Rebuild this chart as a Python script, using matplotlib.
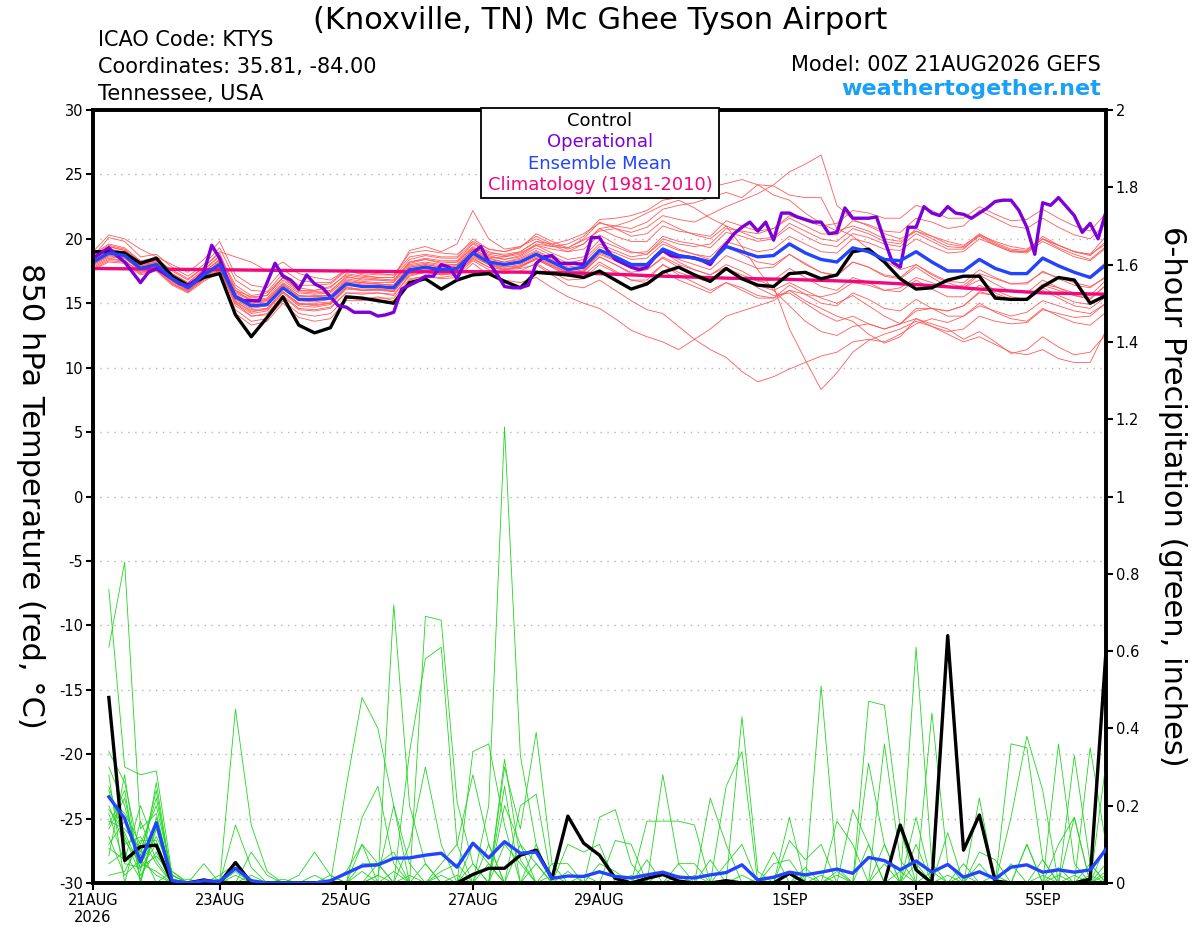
import matplotlib
matplotlib.use("Agg")
import matplotlib.pyplot as plt
from matplotlib.patches import Rectangle
from matplotlib.ticker import FuncFormatter

# ---- time axes (forecast hours from 00Z 21AUG2026) ----
temp_hours = list(range(0, 385, 6))
oper_hours = list(range(0, 385, 3))
precip_hours = list(range(6, 385, 6))
clim_hours = list(range(0, 385, 24))

date_ticks = [0, 48, 96, 144, 192, 264, 312, 360]
date_labels = ["21AUG\n2026", "23AUG", "25AUG", "27AUG", "29AUG", "1SEP", "3SEP", "5SEP"]

# ---- 850 hPa temperature (C) ----
control_temp = [
    19.0, 19.0, 18.9, 18.1, 18.5, 17.1, 16.4, 17.0, 17.3, 14.1, 12.4, 13.9, 15.5, 13.3, 12.7, 13.1,
    15.5, 15.4, 15.2, 15.0, 16.6, 16.9, 16.1, 16.8, 17.2, 17.3, 16.7, 16.2, 17.4, 17.3, 17.2, 17.0,
    17.5, 16.8, 16.1, 16.5, 17.4, 17.8, 17.2, 16.7, 17.7, 16.9, 16.4, 16.3, 17.3, 17.4, 16.9, 17.2,
    19.0, 19.2, 18.2, 16.9, 16.1, 16.2, 16.8, 17.1, 17.1, 15.4, 15.3, 15.3, 16.3, 17.0, 16.8, 15.0, 15.6,
]

mean_temp = [
    18.2, 18.9, 18.7, 17.7, 18.0, 16.9, 16.2, 17.2, 18.0, 15.5, 14.8, 14.9, 16.2, 15.3, 15.3, 15.4,
    16.5, 16.3, 16.3, 16.2, 17.6, 17.8, 17.6, 17.7, 18.9, 18.2, 18.0, 18.2, 18.8, 18.2, 17.6, 17.8,
    19.1, 18.6, 18.0, 18.0, 19.2, 18.7, 18.5, 18.2, 19.4, 19.0, 18.6, 18.7, 19.6, 18.9, 18.4, 18.2,
    19.3, 19.0, 18.4, 18.3, 19.0, 18.2, 17.5, 17.5, 18.4, 17.7, 17.3, 17.3, 18.5, 17.9, 17.4, 17.0, 18.0,
]

oper_temp = [
    18.5, 18.9, 19.3, 18.7, 18.2, 17.4, 16.6, 17.4, 17.7, 17.3, 16.9, 16.5, 16.4, 16.8, 17.4, 19.5,
    18.5, 16.8, 15.5, 15.2, 15.2, 15.2, 16.6, 18.1, 17.1, 16.8, 16.1, 17.2, 16.5, 16.2, 15.5, 14.8,
    14.7, 14.3, 14.3, 14.3, 14.0, 14.1, 14.3, 16.1, 16.4, 16.7, 17.1, 17.1, 18.0, 17.8, 16.9, 18.2,
    18.9, 19.4, 18.2, 17.3, 16.3, 16.2, 16.2, 16.4, 18.1, 18.6, 18.7, 18.1, 18.1, 18.1, 18.0, 20.1,
    20.1, 19.1, 18.4, 18.1, 17.8, 17.6, 17.8, 18.6, 19.1, 18.7, 18.6, 18.6, 18.5, 18.3, 18.0, 18.9,
    19.6, 20.4, 20.9, 21.3, 20.6, 21.3, 19.9, 22.0, 22.0, 21.7, 21.5, 21.3, 21.3, 20.4, 20.5, 22.4,
    21.6, 21.6, 21.6, 21.7, 19.9, 18.2, 17.8, 20.9, 20.9, 22.5, 22.0, 21.8, 22.5, 22.0, 21.9, 21.6,
    22.0, 22.4, 22.9, 23.0, 23.0, 22.2, 20.9, 18.8, 22.8, 22.6, 23.2, 22.5, 21.8, 20.5, 21.2, 20.0,
    22.1,
]

clim_temp = [17.7, 17.65, 17.6, 17.55, 17.5, 17.45, 17.45, 17.4, 17.3,
             17.1, 16.95, 16.85, 16.7, 16.45, 16.1, 15.8, 15.7]

temp_m01 = [
    18.5, 19.4, 19.1, 18.0, 18.4, 17.3, 16.6, 17.6, 18.7, 16.4, 15.6, 15.8, 17.0, 16.2, 16.0, 16.3,
    17.2, 17.0, 16.9, 16.8, 18.2, 18.5, 18.3, 18.3, 19.6, 18.9, 18.8, 19.0, 19.8, 19.4, 19.3, 19.9,
    20.6, 20.8, 20.5, 20.9, 21.8, 21.5, 21.3, 21.9, 22.5, 23.0, 23.5, 24.2, 25.2, 25.8, 26.5, 22.6,
    21.5, 21.0, 20.4, 20.0, 20.6, 20.2, 19.8, 19.5, 20.3, 19.8, 19.4, 19.2, 20.0, 19.5, 19.0, 18.8, 19.6,
]
temp_m02 = [
    18.0, 18.6, 18.5, 17.5, 17.8, 16.7, 16.0, 17.0, 17.8, 15.2, 14.3, 14.6, 15.9, 15.0, 14.8, 15.0,
    16.2, 16.0, 16.1, 15.9, 17.4, 17.6, 17.5, 17.8, 19.0, 18.5, 18.6, 19.0, 19.8, 19.6, 19.9, 20.4,
    21.2, 21.0, 20.8, 21.3, 22.3, 22.6, 22.8, 23.2, 23.6, 23.2, 24.2, 24.1, 23.4, 23.2, 23.2, 20.8,
    20.2, 19.2, 18.3, 17.6, 18.0, 17.2, 16.6, 16.2, 16.8, 16.0, 15.5, 15.3, 16.0, 15.4, 14.8, 14.6, 15.5,
]
temp_m03 = [
    17.9, 18.5, 18.3, 17.4, 17.7, 16.6, 15.9, 16.9, 17.6, 15.0, 14.0, 14.2, 15.6, 14.6, 14.5, 14.7,
    15.8, 15.7, 15.8, 15.6, 17.2, 17.4, 17.2, 17.4, 18.4, 17.8, 17.6, 17.9, 18.4, 17.8, 17.2, 17.5,
    18.6, 18.0, 17.4, 17.6, 18.6, 18.0, 17.6, 17.2, 18.0, 17.5, 16.8, 16.3, 13.0, 10.6, 8.3, 9.6,
    11.2, 12.1, 12.6, 13.0, 13.6, 13.2, 12.8, 13.0, 14.0, 13.6, 13.4, 13.5, 14.5, 14.2, 13.9, 14.0, 15.0,
]
temp_m04 = [
    18.3, 19.0, 18.8, 17.9, 18.1, 17.0, 16.3, 17.3, 18.2, 15.8, 15.2, 15.2, 16.4, 15.5, 15.6, 15.6,
    16.6, 16.6, 16.5, 16.4, 17.8, 18.0, 17.8, 17.9, 18.8, 18.0, 17.6, 17.7, 18.0, 17.2, 16.4, 16.2,
    16.8, 16.0, 15.2, 14.5, 14.2, 13.2, 12.2, 11.4, 10.8, 9.7, 8.9, 9.3, 9.9, 10.4, 10.9, 11.2,
    12.0, 12.2, 12.0, 12.6, 13.4, 13.8, 13.5, 14.0, 14.8, 14.4, 14.0, 14.3, 15.2, 14.8, 14.4, 14.2, 15.0,
]
temp_m05 = [
    17.6, 18.2, 18.1, 17.2, 17.5, 16.4, 15.8, 16.7, 17.4, 14.5, 13.6, 13.8, 15.2, 14.2, 14.0, 14.2,
    15.4, 15.3, 15.5, 15.2, 16.8, 17.1, 16.9, 17.0, 18.1, 17.2, 16.8, 16.6, 17.0, 16.2, 15.5, 15.0,
    14.6, 13.8, 12.9, 12.4, 12.0, 11.4, 12.2, 13.0, 14.0, 14.4, 14.8, 15.2, 16.0, 15.7, 15.5, 15.8,
    16.6, 16.4, 16.0, 16.2, 17.0, 16.6, 16.2, 16.4, 17.3, 16.9, 16.5, 16.6, 17.4, 17.0, 16.6, 16.3, 17.0,
]
temp_m06 = [
    18.8, 19.6, 19.3, 18.3, 18.5, 17.5, 16.8, 17.8, 18.9, 16.0, 15.2, 15.3, 16.6, 15.8, 15.7, 15.8,
    16.9, 16.7, 16.6, 16.6, 18.0, 18.2, 18.0, 18.0, 19.2, 18.5, 18.2, 18.4, 19.0, 18.4, 17.8, 18.0,
    19.2, 18.6, 17.9, 17.6, 18.5, 17.8, 17.2, 16.8, 17.6, 17.0, 16.4, 16.0, 16.6, 16.0, 15.4, 15.0,
    15.6, 14.8, 14.0, 13.4, 13.8, 13.2, 12.6, 12.0, 12.4, 11.8, 11.2, 11.0, 11.4, 10.7, 10.4, 10.4, 12.9,
]
temp_m07 = [
    18.1, 18.7, 18.6, 17.6, 17.9, 16.8, 16.1, 17.1, 17.9, 15.3, 14.5, 14.6, 15.9, 15.0, 15.0, 15.1,
    16.3, 16.0, 16.1, 16.0, 17.4, 17.6, 17.4, 17.5, 18.7, 18.0, 17.8, 17.9, 18.5, 17.9, 17.3, 17.4,
    18.6, 18.0, 17.3, 17.0, 18.0, 17.2, 16.6, 16.0, 16.6, 16.2, 15.6, 15.4, 16.0, 15.2, 14.6, 14.0,
    13.6, 12.6, 11.9, 12.4, 13.8, 13.4, 13.0, 12.2, 12.8, 12.0, 11.1, 11.4, 12.4, 11.6, 11.0, 11.2, 12.6,
]
temp_m08 = [
    18.6, 20.1, 19.8, 18.6, 18.8, 17.8, 17.1, 18.0, 19.3, 16.8, 16.0, 15.9, 17.3, 16.4, 16.4, 16.5,
    17.5, 17.3, 17.2, 17.2, 18.6, 18.8, 18.6, 18.6, 20.0, 19.2, 19.0, 19.4, 20.2, 19.6, 19.2, 19.6,
    20.8, 20.2, 19.8, 19.8, 21.0, 20.6, 20.4, 20.2, 21.4, 21.0, 20.6, 20.8, 21.6, 21.0, 20.4, 20.3,
    21.4, 21.1, 20.6, 20.5, 21.6, 21.3, 20.8, 21.0, 22.2, 21.6, 21.0, 20.8, 21.6, 20.9, 20.3, 20.0, 21.2,
]
temp_m09 = [
    18.4, 19.2, 18.9, 17.9, 18.2, 17.2, 16.4, 17.5, 18.3, 16.0, 15.5, 15.6, 17.0, 16.0, 16.0, 16.2,
    17.3, 17.1, 17.0, 17.0, 18.4, 18.7, 18.5, 18.5, 19.7, 19.0, 18.7, 18.9, 19.5, 18.9, 18.4, 18.6,
    19.9, 19.4, 18.9, 19.0, 20.2, 19.8, 19.6, 19.3, 20.5, 20.2, 19.8, 20.0, 20.9, 20.2, 19.6, 19.4,
    20.4, 20.1, 19.6, 19.4, 20.4, 19.8, 19.2, 19.2, 20.3, 19.6, 19.1, 19.0, 20.0, 19.3, 18.8, 18.4, 19.4,
]
temp_m10 = [
    18.2, 18.9, 18.8, 17.8, 18.0, 16.9, 16.2, 17.3, 18.1, 15.4, 14.6, 14.8, 16.2, 15.2, 15.1, 15.3,
    16.5, 16.4, 16.3, 16.2, 17.6, 17.9, 17.6, 17.8, 18.9, 18.3, 18.1, 18.3, 18.9, 18.3, 17.6, 17.9,
    19.2, 18.7, 18.1, 18.1, 19.3, 18.8, 18.6, 18.3, 19.5, 19.1, 18.6, 18.8, 19.7, 19.0, 18.4, 18.3,
    19.3, 19.0, 18.4, 18.3, 19.1, 18.3, 17.6, 17.6, 18.5, 17.8, 17.3, 17.4, 18.6, 18.0, 17.4, 17.1, 18.2,
]
temp_m11 = [
    19.0, 20.3, 20.0, 19.2, 18.6, 18.0, 17.4, 18.4, 19.8, 17.2, 16.4, 16.2, 17.6, 16.8, 16.6, 16.6,
    17.6, 17.2, 17.0, 17.0, 19.1, 19.4, 19.0, 19.6, 22.2, 20.0, 19.2, 19.4, 20.0, 19.5, 19.0, 19.2,
    20.3, 19.6, 19.0, 18.8, 19.8, 19.2, 18.8, 18.4, 19.4, 18.8, 18.2, 18.0, 18.8, 18.0, 17.4, 17.2,
    18.2, 17.8, 17.2, 17.0, 18.0, 17.3, 16.7, 16.6, 17.6, 17.0, 16.5, 16.5, 17.5, 16.9, 16.4, 16.2, 17.1,
]
temp_m12 = [
    17.8, 18.4, 18.3, 17.4, 17.6, 16.5, 15.9, 16.9, 17.5, 14.2, 13.3, 13.6, 15.0, 13.9, 13.6, 13.8,
    15.2, 15.2, 15.4, 15.4, 16.9, 17.1, 17.0, 17.2, 18.3, 17.6, 17.3, 17.5, 18.1, 17.4, 16.8, 16.9,
    18.0, 17.4, 16.8, 16.8, 18.0, 17.4, 17.0, 16.6, 17.7, 17.2, 16.7, 16.8, 17.7, 17.0, 16.3, 16.0,
    17.0, 16.6, 16.0, 15.9, 16.8, 16.1, 15.5, 15.5, 16.4, 15.8, 15.3, 15.2, 16.2, 15.6, 15.1, 14.9, 15.8,
]
temp_m13 = [
    18.7, 19.5, 19.2, 18.2, 18.3, 17.6, 16.9, 17.8, 19.0, 18.6, 18.2, 17.5, 18.2, 17.3, 17.0, 16.8,
    17.6, 17.4, 17.3, 17.2, 18.9, 19.1, 18.9, 18.8, 19.8, 19.2, 19.0, 19.3, 20.4, 19.8, 19.3, 20.0,
    21.3, 20.8, 20.2, 20.4, 21.4, 20.8, 20.3, 20.0, 21.0, 20.5, 20.0, 20.1, 21.2, 20.6, 20.0, 19.8,
    20.8, 20.4, 19.8, 19.6, 20.8, 20.2, 19.6, 19.4, 20.4, 19.7, 19.2, 19.1, 20.2, 19.5, 19.0, 18.7, 19.8,
]
temp_m14 = [
    18.0, 18.7, 18.5, 17.6, 17.9, 16.7, 16.0, 17.0, 17.7, 15.0, 14.2, 14.4, 15.8, 14.8, 14.7, 14.9,
    16.1, 16.0, 16.0, 15.9, 17.3, 17.5, 17.3, 17.4, 18.6, 18.0, 17.7, 17.8, 18.4, 17.8, 17.1, 17.2,
    18.2, 17.5, 16.8, 16.6, 17.5, 16.8, 16.3, 15.8, 16.6, 16.0, 15.4, 15.4, 16.4, 15.7, 15.0, 14.8,
    15.8, 15.3, 14.6, 14.4, 15.3, 14.6, 14.0, 14.0, 15.0, 14.3, 13.8, 13.6, 14.6, 14.0, 13.5, 13.3, 14.3,
]
temp_m15 = [
    18.3, 19.1, 18.9, 17.8, 18.1, 17.0, 16.3, 17.3, 18.2, 15.6, 15.0, 15.1, 16.5, 15.6, 15.5, 15.6,
    16.8, 16.6, 16.5, 16.4, 17.9, 18.1, 17.9, 18.0, 19.2, 18.6, 18.4, 18.7, 19.5, 19.2, 19.0, 19.6,
    20.8, 21.0, 21.4, 22.0, 22.6, 23.0, 22.4, 21.6, 21.0, 19.4, 17.6, 16.0, 14.8, 13.6, 12.8, 12.5,
    13.2, 13.4, 13.0, 13.4, 14.4, 14.6, 14.4, 14.8, 15.8, 15.6, 15.2, 15.4, 16.4, 16.0, 15.6, 15.4, 16.4,
]
temp_m16 = [
    18.6, 19.4, 19.1, 18.1, 18.3, 17.3, 16.6, 17.6, 18.6, 16.2, 15.4, 15.6, 17.0, 16.0, 15.9, 16.0,
    17.0, 16.9, 16.8, 16.8, 18.2, 18.4, 18.2, 18.2, 19.4, 18.7, 18.4, 18.6, 19.3, 18.7, 18.1, 18.4,
    19.6, 19.1, 18.6, 18.8, 20.0, 19.6, 19.4, 19.6, 20.8, 20.6, 20.4, 20.8, 21.8, 21.4, 21.0, 21.2,
    22.2, 22.0, 21.6, 21.6, 22.6, 22.2, 21.6, 21.6, 22.5, 21.9, 21.4, 21.5, 22.3, 21.6, 21.0, 20.6, 22.0,
]
temp_m17 = [
    17.7, 18.3, 18.2, 17.3, 17.6, 16.5, 15.9, 16.8, 17.6, 14.8, 14.0, 14.1, 15.5, 14.5, 14.4, 14.6,
    15.8, 15.8, 15.8, 15.7, 17.1, 17.4, 17.2, 17.3, 18.5, 17.8, 17.6, 17.8, 18.5, 17.9, 17.4, 17.5,
    18.8, 18.3, 17.8, 17.8, 19.0, 18.4, 18.0, 17.6, 18.7, 18.2, 17.7, 17.8, 18.8, 18.1, 17.4, 17.1,
    18.2, 17.8, 17.1, 16.9, 17.8, 17.0, 16.3, 16.2, 17.2, 16.5, 15.9, 15.8, 16.8, 16.2, 15.6, 15.3, 16.4,
]
temp_m18 = [
    18.4, 19.0, 18.9, 18.0, 18.2, 17.1, 16.4, 17.4, 18.4, 15.9, 15.3, 15.4, 16.8, 15.9, 15.8, 15.9,
    17.1, 16.8, 16.8, 16.7, 18.1, 18.4, 18.1, 18.2, 19.3, 18.8, 18.6, 18.8, 19.6, 19.4, 19.6, 20.2,
    21.5, 21.6, 21.8, 22.2, 23.0, 23.2, 23.5, 24.0, 24.3, 24.6, 24.2, 23.4, 23.0, 22.0, 21.2, 20.6,
    21.0, 20.6, 20.0, 19.8, 20.6, 20.0, 19.4, 19.3, 20.2, 19.5, 19.0, 18.9, 19.8, 19.2, 18.6, 18.3, 19.3,
]
temp_m19 = [
    18.1, 18.8, 18.6, 17.7, 17.9, 16.8, 16.1, 17.1, 17.8, 15.1, 14.4, 14.5, 15.9, 14.9, 14.9, 15.0,
    16.2, 16.1, 16.1, 16.0, 17.5, 17.7, 17.5, 17.6, 18.8, 18.1, 17.8, 18.0, 18.6, 18.0, 17.4, 17.6,
    18.9, 18.4, 17.8, 17.9, 19.0, 18.2, 17.6, 17.2, 17.8, 17.0, 16.2, 15.6, 15.8, 15.0, 14.2, 13.6,
    14.0, 13.4, 13.0, 13.4, 14.6, 14.6, 14.4, 14.8, 15.9, 15.6, 15.3, 15.4, 16.5, 16.2, 15.8, 15.6, 16.8,
]
temp_m20 = [
    18.5, 19.2, 19.0, 18.0, 18.3, 17.2, 16.5, 17.4, 18.4, 15.7, 15.0, 15.2, 16.5, 15.6, 15.5, 15.6,
    16.7, 16.5, 16.5, 16.4, 17.8, 18.0, 17.8, 17.9, 19.1, 18.4, 18.2, 18.5, 19.1, 18.5, 17.9, 18.2,
    19.4, 18.9, 18.4, 18.5, 19.6, 19.1, 18.8, 18.6, 19.8, 19.4, 19.0, 19.2, 20.2, 19.6, 19.0, 18.9,
    20.0, 19.7, 19.2, 19.1, 20.0, 19.4, 18.9, 19.0, 20.0, 19.5, 19.0, 19.0, 20.0, 19.5, 19.0, 18.8, 20.2,
]

# ---- 6-hour precipitation (inches) ----
control_precip = [
    0.48, 0.058, 0.094, 0.098, 0, 0, 0.008, 0, 0.053, 0, 0, 0, 0, 0, 0, 0,
    0, 0, 0, 0, 0, 0, 0, 0.022, 0.038, 0.038, 0.072, 0.085, 0.012, 0.173, 0.103, 0.072,
    0.012, 0, 0.012, 0.022, 0.005, 0, 0, 0.006, 0, 0, 0, 0.025, 0, 0, 0, 0,
    0, 0, 0.15, 0.034, 0, 0.64, 0.085, 0.176, 0.005, 0, 0, 0, 0, 0, 0.01, 0.6,
]
mean_precip = [
    0.223, 0.167, 0.055, 0.156, 0.006, 0, 0.006, 0.004, 0.038, 0.006, 0, 0, 0, 0, 0.006, 0.025,
    0.044, 0.047, 0.064, 0.065, 0.072, 0.077, 0.041, 0.103, 0.065, 0.107, 0.077, 0.08, 0.012, 0.018, 0.017, 0.029,
    0.017, 0.013, 0.021, 0.028, 0.015, 0.013, 0.021, 0.027, 0.047, 0.008, 0.015, 0.028, 0.021, 0.028, 0.036, 0.025,
    0.066, 0.058, 0.034, 0.057, 0.028, 0.048, 0.015, 0.029, 0.011, 0.041, 0.047, 0.028, 0.034, 0.028, 0.034, 0.087,
]

precip_m01 = [
    0.76, 0.30, 0.28, 0.29, 0.02, 0, 0, 0, 0.45, 0.15, 0.03, 0, 0, 0, 0, 0,
    0, 0, 0.72, 0.20, 0.05, 0, 0, 0, 0, 0, 0, 0, 0, 0, 0, 0,
    0, 0, 0, 0.28, 0.05, 0, 0, 0, 0, 0, 0, 0, 0, 0, 0, 0,
    0, 0, 0, 0.61, 0.05, 0, 0, 0, 0, 0, 0, 0, 0, 0.17, 0, 0,
]
precip_m02 = [
    0.61, 0.83, 0.14, 0.18, 0.01, 0, 0, 0, 0, 0, 0, 0, 0, 0, 0, 0.25,
    0.48, 0.40, 0.20, 0.05, 0, 0, 0, 0, 0, 0, 0, 0, 0, 0, 0, 0,
    0, 0, 0, 0, 0, 0, 0, 0, 0.43, 0.03, 0, 0, 0, 0, 0, 0,
    0, 0, 0, 0, 0, 0, 0, 0, 0, 0.36, 0.35, 0.06, 0, 0, 0, 0,
]
precip_m03 = [
    0.34, 0.26, 0.07, 0.24, 0, 0, 0, 0.02, 0.05, 0, 0, 0, 0, 0, 0, 0,
    0, 0, 0, 0, 0.69, 0.68, 0.21, 0.05, 0, 0, 0, 0, 0, 0, 0, 0,
    0, 0, 0, 0, 0, 0, 0, 0, 0, 0, 0, 0, 0, 0, 0, 0,
    0.47, 0.46, 0.14, 0, 0, 0, 0, 0, 0, 0, 0, 0, 0, 0, 0.35, 0.10,
]
precip_m04 = [
    0.30, 0.20, 0.05, 0.12, 0.03, 0, 0, 0, 0, 0, 0, 0, 0.02, 0.08, 0.02, 0,
    0, 0, 0, 0.34, 0.58, 0.61, 0.10, 0, 0, 0, 0, 0, 0, 0, 0, 0,
    0, 0, 0, 0, 0, 0, 0, 0, 0, 0, 0, 0, 0, 0.51, 0.04, 0,
    0, 0, 0, 0, 0, 0, 0, 0, 0, 0, 0, 0, 0.36, 0.05, 0, 0,
]
precip_m05 = [
    0.25, 0.12, 0.02, 0.08, 0, 0, 0, 0, 0, 0, 0, 0, 0, 0, 0, 0,
    0, 0, 0, 0, 0, 0, 0, 0, 0.20, 1.18, 0.33, 0.10, 0, 0, 0, 0,
    0, 0, 0, 0, 0, 0, 0, 0.25, 0.34, 0, 0, 0, 0, 0, 0, 0,
    0, 0, 0, 0, 0.44, 0.05, 0, 0, 0, 0, 0.10, 0, 0, 0, 0, 0,
]
precip_m06 = [
    0.22, 0.18, 0.10, 0.20, 0.02, 0, 0.05, 0, 0, 0, 0, 0, 0, 0, 0, 0,
    0.17, 0.25, 0.05, 0, 0, 0, 0, 0.34, 0.36, 0.15, 0, 0, 0, 0, 0, 0.17,
    0.19, 0.05, 0, 0, 0, 0, 0, 0, 0, 0, 0, 0, 0, 0, 0, 0,
    0, 0, 0, 0, 0, 0, 0, 0.22, 0, 0, 0, 0, 0, 0, 0, 0.31,
]
precip_m07 = [
    0.20, 0.10, 0.12, 0.05, 0, 0, 0, 0, 0.02, 0, 0, 0, 0, 0, 0, 0,
    0, 0, 0, 0, 0, 0, 0, 0, 0, 0.30, 0.14, 0.39, 0.05, 0, 0, 0,
    0, 0, 0, 0, 0, 0, 0.22, 0.10, 0, 0, 0, 0, 0, 0, 0, 0,
    0, 0.36, 0.06, 0, 0, 0, 0, 0, 0, 0.17, 0.38, 0.24, 0, 0, 0, 0,
]
precip_m08 = [
    0.18, 0.05, 0.04, 0.10, 0, 0, 0, 0, 0, 0.08, 0.02, 0, 0, 0, 0, 0,
    0, 0, 0, 0, 0, 0.05, 0.10, 0.28, 0.10, 0, 0, 0, 0, 0, 0, 0,
    0, 0, 0.16, 0.16, 0.16, 0.15, 0, 0, 0, 0, 0, 0.17, 0, 0, 0, 0,
    0, 0, 0, 0.17, 0, 0, 0, 0, 0, 0, 0, 0, 0, 0.33, 0.05, 0,
]
precip_m09 = [
    0.15, 0.24, 0, 0.15, 0.01, 0, 0, 0, 0, 0, 0, 0, 0, 0, 0, 0,
    0.10, 0.05, 0, 0, 0, 0, 0, 0, 0, 0.20, 0.10, 0, 0, 0, 0, 0,
    0, 0, 0, 0, 0, 0, 0, 0, 0, 0, 0, 0.11, 0.06, 0.10, 0, 0,
    0.31, 0.10, 0, 0, 0, 0, 0, 0, 0, 0, 0.10, 0, 0, 0, 0, 0.03,
]
precip_m10 = [
    0.12, 0.02, 0.06, 0.02, 0, 0, 0, 0, 0.15, 0.04, 0, 0, 0, 0, 0, 0.03,
    0.10, 0, 0, 0.10, 0.30, 0.10, 0, 0, 0, 0, 0, 0, 0, 0.10, 0.08, 0.10,
    0, 0, 0, 0, 0, 0, 0, 0, 0, 0, 0, 0, 0, 0, 0, 0.19,
    0.10, 0, 0, 0, 0, 0, 0, 0.08, 0.06, 0, 0, 0, 0, 0, 0, 0,
]
precip_m11 = [
    0.10, 0.16, 0.08, 0.22, 0.02, 0, 0, 0, 0, 0, 0, 0, 0, 0, 0, 0,
    0, 0.02, 0.20, 0, 0, 0, 0, 0, 0, 0, 0.20, 0.23, 0, 0, 0, 0,
    0.11, 0.10, 0, 0, 0, 0, 0, 0, 0, 0, 0.05, 0.06, 0, 0, 0, 0,
    0, 0, 0, 0.10, 0, 0, 0, 0, 0, 0, 0, 0, 0.10, 0.17, 0, 0,
]
precip_m12 = [
    0.28, 0, 0.16, 0.06, 0, 0.01, 0, 0, 0, 0, 0, 0, 0, 0.02, 0, 0,
    0, 0, 0, 0, 0, 0, 0, 0.10, 0.05, 0, 0, 0, 0.05, 0.05, 0, 0,
    0, 0, 0, 0, 0, 0, 0, 0, 0, 0, 0.08, 0, 0, 0, 0.16, 0.10,
    0, 0, 0, 0, 0, 0.13, 0, 0, 0, 0, 0, 0.06, 0, 0, 0, 0.10,
]
precip_m13 = [
    0.05, 0.08, 0.01, 0.14, 0, 0, 0, 0, 0.03, 0, 0, 0, 0, 0, 0, 0,
    0.05, 0.05, 0, 0, 0, 0, 0, 0, 0, 0.25, 0, 0, 0, 0, 0, 0,
    0, 0, 0, 0, 0.05, 0.05, 0, 0, 0, 0, 0, 0, 0, 0, 0, 0,
    0.10, 0, 0, 0, 0, 0, 0, 0, 0, 0, 0, 0, 0, 0, 0.05, 0,
]
precip_m14 = [
    0.16, 0.14, 0.09, 0, 0.03, 0, 0, 0, 0, 0, 0, 0, 0, 0, 0, 0,
    0, 0, 0, 0, 0, 0.03, 0.05, 0, 0, 0.10, 0.05, 0, 0, 0, 0, 0,
    0, 0, 0.06, 0, 0, 0, 0.06, 0, 0, 0, 0, 0, 0.04, 0, 0, 0,
    0, 0.10, 0, 0, 0, 0, 0, 0, 0, 0, 0, 0, 0, 0, 0, 0.05,
]
precip_m15 = [
    0.14, 0.22, 0.03, 0.26, 0, 0, 0, 0, 0, 0, 0, 0.01, 0, 0, 0, 0,
    0, 0.02, 0, 0, 0, 0, 0, 0, 0, 0, 0, 0.10, 0, 0, 0, 0.05,
    0.03, 0, 0, 0, 0, 0, 0, 0.05, 0.10, 0, 0, 0, 0, 0, 0, 0,
    0, 0, 0, 0, 0, 0, 0, 0.05, 0, 0.05, 0, 0, 0, 0, 0, 0,
]
precip_m16 = [
    0.09, 0.06, 0.20, 0.09, 0, 0, 0, 0.01, 0, 0, 0, 0, 0, 0, 0, 0,
    0, 0, 0, 0, 0, 0, 0.02, 0, 0, 0.32, 0.06, 0, 0, 0, 0, 0,
    0, 0, 0, 0.03, 0, 0, 0, 0, 0, 0, 0, 0, 0, 0.02, 0, 0,
    0, 0, 0, 0.05, 0, 0, 0.05, 0, 0, 0, 0, 0, 0.04, 0, 0, 0,
]
precip_m17 = [
    0.24, 0.11, 0.05, 0.03, 0, 0, 0, 0, 0, 0, 0, 0, 0, 0, 0, 0,
    0, 0.05, 0.08, 0, 0, 0, 0, 0.05, 0, 0, 0, 0.05, 0, 0, 0.02, 0,
    0, 0, 0, 0, 0, 0, 0, 0, 0, 0, 0, 0.03, 0, 0, 0, 0,
    0, 0.05, 0, 0, 0.03, 0, 0, 0, 0, 0, 0, 0.02, 0, 0, 0.02, 0,
]
precip_m18 = [
    0.07, 0.28, 0, 0.17, 0.01, 0, 0, 0, 0, 0, 0, 0, 0, 0, 0, 0,
    0, 0, 0, 0.02, 0, 0, 0, 0, 0.05, 0, 0.10, 0.05, 0, 0, 0, 0,
    0, 0.02, 0, 0, 0, 0, 0, 0, 0.02, 0, 0, 0, 0, 0, 0.03, 0,
    0, 0, 0, 0, 0, 0, 0.02, 0, 0, 0, 0, 0, 0, 0.02, 0, 0,
]
precip_m19 = [
    0.02, 0.03, 0.11, 0.11, 0, 0, 0, 0, 0, 0, 0, 0, 0, 0, 0.02, 0,
    0, 0, 0.03, 0, 0, 0.02, 0, 0, 0, 0, 0, 0, 0.02, 0, 0, 0,
    0, 0, 0, 0, 0, 0.02, 0, 0, 0, 0, 0, 0, 0, 0, 0.02, 0,
    0, 0, 0, 0, 0, 0.02, 0, 0, 0, 0, 0, 0, 0, 0, 0, 0.02,
]
precip_m20 = [
    0.19, 0.13, 0.04, 0.07, 0.02, 0, 0, 0, 0, 0.02, 0, 0, 0, 0, 0, 0,
    0.03, 0, 0, 0, 0.05, 0, 0, 0, 0.10, 0, 0, 0, 0, 0.03, 0, 0,
    0, 0, 0, 0, 0.02, 0, 0, 0, 0, 0.01, 0, 0, 0.02, 0, 0, 0,
    0, 0, 0.03, 0, 0, 0, 0, 0, 0.02, 0, 0, 0, 0.02, 0, 0, 0,
]

temp_members = [temp_m01, temp_m02, temp_m03, temp_m04, temp_m05, temp_m06, temp_m07,
                temp_m08, temp_m09, temp_m10, temp_m11, temp_m12, temp_m13, temp_m14,
                temp_m15, temp_m16, temp_m17, temp_m18, temp_m19, temp_m20]
precip_members = [precip_m01, precip_m02, precip_m03, precip_m04, precip_m05, precip_m06,
                  precip_m07, precip_m08, precip_m09, precip_m10, precip_m11, precip_m12,
                  precip_m13, precip_m14, precip_m15, precip_m16, precip_m17, precip_m18,
                  precip_m19, precip_m20]

plt.rcParams["font.family"] = ["DejaVu Sans"]
plt.rcParams["axes.unicode_minus"] = False

W, H = 1200, 927
RED = "#ff5a5a"
GREEN = "#22d622"
PURPLE = "#7d00d6"
BLUE = "#2244ff"
PINK = "#f0087c"

fig = plt.figure(figsize=(W / 100, H / 100), dpi=100)
ax = fig.add_axes([93 / W, 1 - 883 / H, (1106 - 93) / W, (883 - 110) / H])

for member in temp_members:
    ax.plot(temp_hours, member, color=RED, lw=0.6, zorder=1)
ax.plot(clim_hours, clim_temp, color=PINK, lw=2.4, zorder=3)
ax.plot(temp_hours, control_temp, color="black", lw=2.4, zorder=4)
ax.plot(oper_hours, oper_temp, color=PURPLE, lw=2.4, zorder=5)
ax.plot(temp_hours, mean_temp, color=BLUE, lw=2.4, zorder=6)

ax.set_xlim(0, 384)
ax.set_ylim(-30, 30)
ax.set_yticks(range(-30, 31, 5))
for level in range(-25, 30, 5):
    ax.axhline(level, color="#b4b4b4", lw=1.0, ls=(0, (1, 4)), zorder=0)
ax.set_xticks(date_ticks)
ax.set_xticklabels(date_labels)
ax.tick_params(axis="both", direction="out", length=5, width=1.5, labelsize=10.5, pad=2)

ax2 = ax.twinx()
for member in precip_members:
    ax2.plot(precip_hours, member, color=GREEN, lw=0.6, zorder=1)
ax2.plot(precip_hours, control_precip, color="black", lw=2.4, zorder=3)
ax2.plot(precip_hours, mean_precip, color=BLUE, lw=2.4, zorder=4)
ax2.set_ylim(0, 2)
ax2.set_yticks([i / 10 for i in range(0, 21, 2)])
ax2.yaxis.set_major_formatter(FuncFormatter(lambda v, _: f"{v:g}"))
ax2.tick_params(axis="y", direction="out", length=5, width=1.5, labelsize=10.5, pad=2)

for a in (ax, ax2):
    for spine in a.spines.values():
        spine.set_linewidth(2.6)

fig.text(30 / W, 1 - 496 / H, "850 hPa Temperature (red, °C)", rotation=-90,
         ha="center", va="center", fontsize=22)
fig.text(1172 / W, 1 - 496 / H, "6-hour Precipitation (green, inches)", rotation=-90,
         ha="center", va="center", fontsize=22)

# header texts
fig.text(600 / W, 1 - 29 / H, "(Knoxville, TN) Mc Ghee Tyson Airport",
         ha="center", va="baseline", fontsize=22)
fig.text(98 / W, 1 - 46 / H, "ICAO Code: KTYS", ha="left", va="baseline", fontsize=15)
fig.text(98 / W, 1 - 73 / H, "Coordinates: 35.81, -84.00", ha="left", va="baseline", fontsize=15)
fig.text(98 / W, 1 - 100 / H, "Tennessee, USA", ha="left", va="baseline", fontsize=15)
fig.text(1101 / W, 1 - 71 / H, "Model: 00Z 21AUG2026 GEFS", ha="right", va="baseline", fontsize=15)
fig.text(1101 / W, 1 - 95 / H, "weathertogether.net", ha="right", va="baseline",
         fontsize=16, fontweight="bold", color="#1aa0f5")

# legend box
box = Rectangle((481 / W, 1 - 198 / H), (719 - 481) / W, (198 - 108) / H,
                transform=fig.transFigure, facecolor="white", edgecolor="black",
                lw=1.3, zorder=10)
fig.add_artist(box)
legend_items = [("Control", "black"), ("Operational", PURPLE),
                ("Ensemble Mean", BLUE), ("Climatology (1981-2010)", PINK)]
for n, (label, color) in enumerate(legend_items):
    t = fig.text(600 / W, 1 - (121 + 21.3 * n) / H, label, ha="center", va="center",
                 fontsize=13, color=color)
    t.set_zorder(11)

fig.savefig("out.png", dpi=100)
